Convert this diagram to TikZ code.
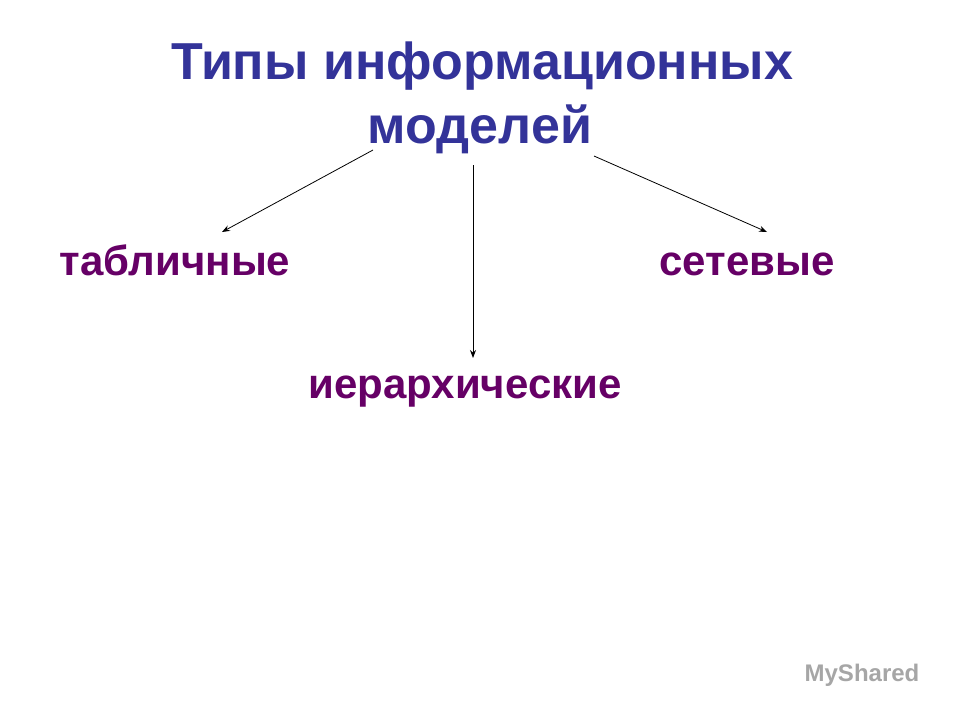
\documentclass[tikz,border=0pt]{standalone}
\usepackage{fontspec}
\setmainfont{Liberation Sans}
\usetikzlibrary{arrows.meta}
\begin{document}
\begin{tikzpicture}[x=1pt,y=-1pt,
  ttl/.style={font=\fontsize{52}{65}\selectfont\bfseries,text=titleblue,anchor=base},
  item/.style={font=\fontsize{42}{50}\selectfont\bfseries,text=itempurple,anchor=base},
  arr/.style={-{Stealth[length=8pt,width=6pt]},black,line width=0.8pt}]
\definecolor{titleblue}{HTML}{333399}
\definecolor{itempurple}{HTML}{660066}
\useasboundingbox[fill=white] (0,0) rectangle (960,720);
\node[ttl] (title) at (482,79) {Типы информационных};
\node[ttl] (title2) at (480,143) {моделей};
\node[item] (tab) at (175,275) {табличные};
\node[item] (net) at (747,275) {сетевые};
\node[item] (hier) at (465,398) {иерархические};
\coordinate (s1) at (373,150); \coordinate (e1) at (222,232);
\coordinate (s2) at (473,165); \coordinate (e2) at (473,358);
\coordinate (s3) at (594,156); \coordinate (e3) at (767,232);
\draw[arr] (s1) -- (e1);
\draw[arr] (s2) -- (e2);
\draw[arr] (s3) -- (e3);
\node[text=gray!70,font=\fontsize{24}{28}\selectfont\bfseries] (wm) at (862,675) {MyShared};
\end{tikzpicture}
\end{document}
